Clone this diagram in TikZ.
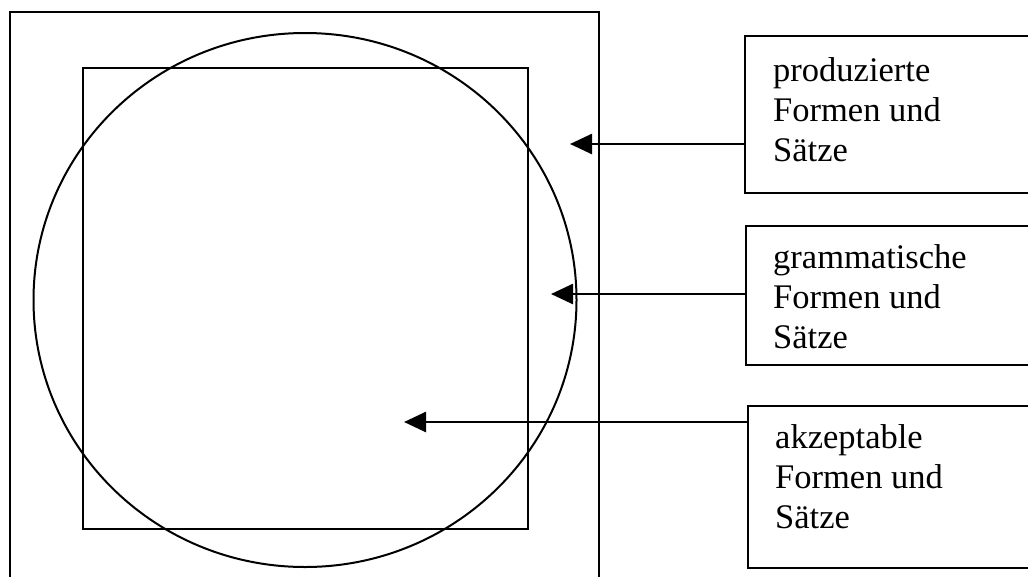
\documentclass[tikz,border=0pt]{standalone}
\usepackage{fontspec}
\setmainfont{Liberation Serif}
\usetikzlibrary{arrows.meta,shapes.geometric}
\begin{document}
\begin{tikzpicture}[x=1pt,y=-1pt,
  line/.style={line width=2pt},
  frame/.style={draw,line,rectangle,inner sep=0pt,outer sep=0pt},
  txt/.style={anchor=west,align=left,inner sep=0pt,font=\fontsize{34.5}{40}\selectfont},
  arr/.style={line width=2.6pt,-{Triangle[length=22pt,width=20pt]}}]
\useasboundingbox (0,0) rectangle (1028,576);
\clip (0,0) rectangle (1028,576);
% left diagram
\node[frame,minimum width=589pt,minimum height=620pt,anchor=north west] (outer) at (10,12) {};
\node[frame,minimum width=445pt,minimum height=461pt,anchor=north west] (inner) at (83,68) {};
\node[draw,line,ellipse,inner sep=0pt,outer sep=0pt,minimum width=543pt,minimum height=534pt] (circ) at (305,300) {};
% label boxes
\node[frame,minimum width=320pt,minimum height=157pt,anchor=north west] (box1) at (745,36) {};
\node[frame,minimum width=320pt,minimum height=139pt,anchor=north west] (box2) at (746,226) {};
\node[frame,minimum width=320pt,minimum height=162pt,anchor=north west] (box3) at (748,406) {};
\node[txt] (t1) at (773,110) {produzierte\\Formen und\\Sätze};
\node[txt] (t2) at (773,297) {grammatische\\Formen und\\Sätze};
\node[txt] (t3) at (775,477) {akzeptable\\Formen und\\Sätze};
% arrows
\coordinate (tip1) at (570,144);
\coordinate (tip2) at (551,294);
\coordinate (tip3) at (404,422);
\draw[arr] (box1.west |- tip1) -- (tip1);
\draw[arr] (box2.west |- tip2) -- (tip2);
\draw[arr] (box3.west |- tip3) -- (tip3);
\end{tikzpicture}
\end{document}
